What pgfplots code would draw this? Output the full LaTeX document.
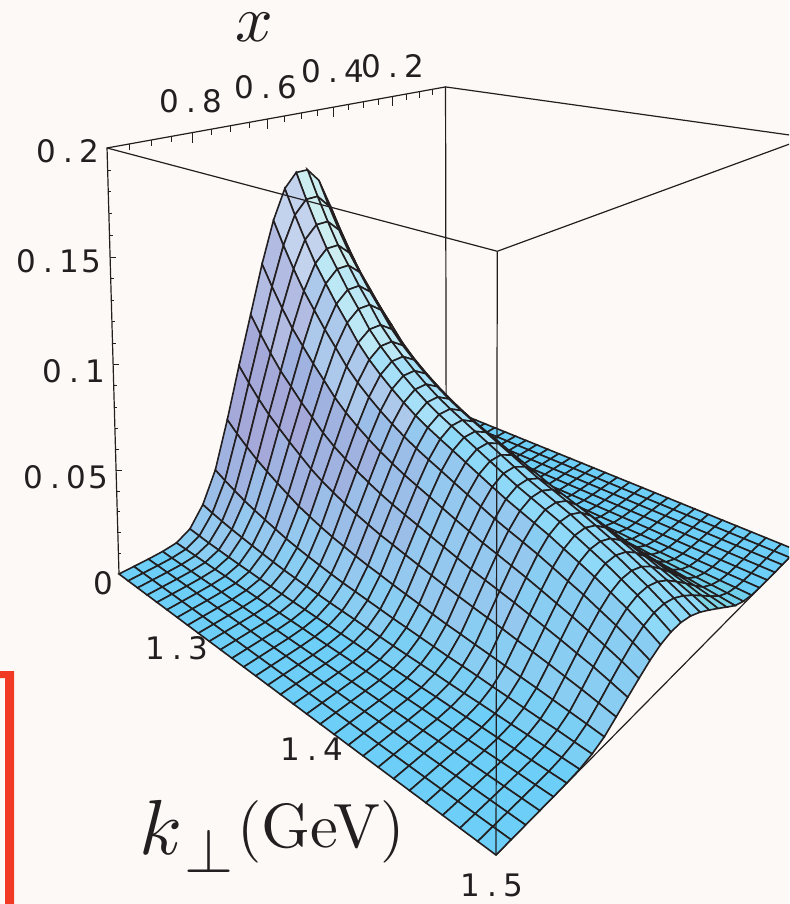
\documentclass[border=0pt]{standalone}
\usepackage{fontspec}
\usepackage{pgfplots}
\usepackage{pgfplotstable}
\usepgfplotslibrary{patchplots}
\pgfplotsset{compat=1.18}
\newfontfamily\tickf{DejaVu Sans}
\definecolor{bg}{HTML}{FCF9F6}
\definecolor{ink}{HTML}{231F20}
\definecolor{redm}{HTML}{F03A24}
\newcommand\cc[1]{\makebox[21.5pt][c]{#1}}
\newcommand\tl[3]{\node[ink,inner sep=0pt,font=\tickf\fontsize{31}{31}\selectfont] at (axis cs:#1,#2) {#3};}
\newcommand\pl[1]{\addplot[ink,line width=1.2pt,no marks] table[row sep=\\,x expr={PX(\thisrow{s},\thisrow{t},\thisrow{w})},y expr={PY(\thisrow{s},\thisrow{t},\thisrow{w})}]{s t w\\ #1};}
\pgfplotstableread{
z c
0 0
0 0
0 0
0 0
0 0
0 0
0 0
0 0
0 0
0 0
0 0
0 0
0 0
0 0
0 0
0 0
0 0
0 0
0 0
0 0
0 0
0 0
0 0
0 0
0 0
0 0
0 0
0 0
0 0
0 0

0 0
0 0
0 0
0 0
0 0
0 0
0 0
0 0
0 0
0 0
0 0
0 0
0 0
0 0
0 0
0 0
0 0
0 0
0 0
0 0
0 0
0 0
0 0
0 0
0 0
0 0
0 0
0 0
0 0
0 0

0 0
0 0
0 0
0 0
0 0
0 0
0 0
0 0
0 0
0 0
0 0
0 0
0 0
0 0
0 0
0 0
0 0
0 0
0 0
0 0
0 0
0 0
0 0
0 0
0 0
0 0
0 0
0 0
0 0
0 0

2 0
1 0
1 0
1 0
1 0
1 0
1 0
0 0
0 0
0 0
0 0
0 0
0 0
0 0
0 0
0 0
0 0
0 0
0 0
0 0
0 0
0 0
0 0
0 0
0 0
0 0
0 0
0 0
0 0
0 0

10 15
9 15
8 15
7 15
6 0
6 0
5 0
5 0
4 0
4 0
3 0
3 0
3 0
2 0
2 0
2 0
2 0
1 0
1 0
1 0
1 0
1 0
0 0
0 0
0 0
0 0
0 0
0 0
0 0
0 0

46 15
41 15
36 15
33 15
29 15
26 15
24 15
21 15
19 15
17 15
15 15
14 15
13 15
12 15
11 15
10 0
9 0
8 0
7 0
6 0
5 0
5 0
4 0
3 0
3 0
2 0
2 0
1 0
1 0
1 0

137 14
123 14
111 14
100 14
91 14
82 14
74 14
66 14
59 14
54 15
49 15
45 15
41 15
38 15
35 15
32 15
29 15
26 15
24 15
22 15
20 15
17 15
15 15
14 15
12 15
10 15
9 15
7 15
6 15
4 15

284 14
257 14
233 14
210 14
192 14
175 14
159 14
143 14
131 14
120 14
111 14
102 14
94 14
88 14
82 14
76 14
70 14
65 14
60 14
55 14
50 14
47 14
43 15
38 15
34 15
30 15
26 15
23 15
18 15
14 15

515 13
468 13
426 13
387 13
355 13
324 13
296 13
268 13
247 13
227 14
210 14
196 14
182 14
170 14
160 14
149 14
139 14
130 14
120 14
111 14
104 14
96 14
89 14
81 14
73 14
66 14
58 14
50 14
42 14
33 14

769 13
703 13
642 13
588 13
543 13
499 13
459 13
419 13
387 13
360 12
336 12
314 12
295 12
277 12
263 12
248 14
234 14
220 14
206 14
193 14
181 14
170 14
159 14
146 14
134 14
122 14
108 14
95 14
80 14
65 14

1012 13
930 13
853 13
783 13
727 13
669 13
620 13
568 13
526 13
492 11
461 11
433 11
408 11
386 11
367 11
349 11
330 11
312 9
294 9
276 9
261 9
246 9
231 9
214 9
197 9
180 9
161 14
143 14
121 14
98 14

1256 13
1155 13
1062 13
978 12
908 12
840 12
778 12
715 12
664 12
622 10
584 10
550 10
520 10
493 10
470 10
447 10
424 10
401 9
379 9
357 9
339 9
320 9
301 9
280 9
258 9
237 9
213 9
188 9
161 9
130 9

1467 12
1351 12
1245 12
1148 12
1068 11
989 11
918 11
845 11
787 11
738 10
694 10
655 10
620 10
589 10
562 10
536 10
509 10
483 9
457 9
431 9
409 9
388 9
366 9
341 9
315 9
290 9
260 9
231 9
197 9
160 9

1619 12
1493 12
1378 12
1271 12
1184 11
1098 11
1021 11
940 11
876 11
823 10
775 10
732 10
693 10
660 10
630 10
602 10
573 10
544 9
515 9
487 9
463 9
439 9
415 9
386 9
358 9
329 9
296 9
263 9
225 9
183 9

1690 12
1560 12
1440 12
1330 12
1240 11
1150 11
1070 11
985 11
920 11
865 10
815 10
770 10
730 10
695 10
665 10
635 9
605 9
575 9
545 9
515 9
490 9
465 9
440 9
410 9
380 9
350 9
315 9
280 9
240 9
195 9

1690 8
1560 8
1440 8
1330 11
1240 11
1150 11
1070 11
985 11
920 10
865 10
815 10
770 10
730 10
695 10
665 9
635 9
605 9
575 9
545 9
515 9
490 9
465 9
440 9
410 9
380 9
350 9
315 9
280 9
240 9
195 9

1619 8
1493 8
1378 8
1271 16
1184 16
1098 16
1021 16
940 16
876 16
823 16
775 16
732 16
693 3
660 3
630 3
602 3
573 3
544 3
515 3
487 3
463 3
439 2
415 2
386 2
358 2
329 2
296 2
263 2
225 2
183 2

1467 7
1351 7
1245 7
1148 7
1068 16
989 16
918 16
845 16
787 16
738 4
694 4
655 4
620 4
589 4
562 3
536 3
509 3
483 3
457 3
431 3
409 3
388 3
366 2
341 2
315 2
290 2
260 2
231 2
197 2
160 2

1256 7
1155 7
1062 7
978 5
908 5
840 5
778 5
715 5
664 5
622 5
584 5
550 4
520 4
493 4
470 4
447 3
424 3
401 3
379 3
357 3
339 3
320 3
301 2
280 2
258 2
237 2
213 2
188 2
161 2
130 2

1012 6
930 6
853 6
783 6
727 6
669 6
620 5
568 5
526 5
492 5
461 4
433 4
408 4
386 4
367 4
349 3
330 3
312 3
294 3
276 3
261 3
246 3
231 3
214 2
197 2
180 2
161 2
143 2
121 2
98 2

769 6
703 6
642 6
588 6
543 5
499 5
459 5
419 5
387 4
360 4
336 4
314 4
295 4
277 3
263 3
248 3
234 3
220 3
206 3
193 3
181 2
170 2
159 2
146 2
134 2
122 2
108 2
95 2
80 2
65 2

515 5
468 5
426 5
387 4
355 4
324 4
296 4
268 3
247 3
227 3
210 3
196 3
182 3
170 2
160 2
149 2
139 2
130 2
120 2
111 2
104 2
96 2
89 2
81 2
73 1
66 1
58 1
50 1
42 1
33 1

284 4
257 4
233 4
210 3
192 3
175 3
159 3
143 2
131 2
120 2
111 2
102 2
94 2
88 2
82 2
76 2
70 1
65 1
60 1
55 1
50 1
47 1
43 1
38 1
34 1
30 1
26 1
23 1
18 1
14 1

137 3
123 3
111 3
100 3
91 2
82 2
74 2
66 2
59 2
54 2
49 1
45 1
41 1
38 1
35 1
32 1
29 1
26 1
24 1
22 1
20 1
17 1
15 1
14 0
12 0
10 0
9 0
7 0
6 0
4 0

46 2
41 2
36 2
33 1
29 1
26 1
24 1
21 1
19 1
17 1
15 1
14 0
13 0
12 0
11 0
10 0
9 0
8 0
7 0
6 0
5 0
5 0
4 0
3 0
3 0
2 0
2 0
1 0
1 0
1 0

10 1
9 1
8 1
7 1
6 1
6 0
5 0
5 0
4 0
4 0
3 0
3 0
3 0
2 0
2 0
2 0
2 0
1 0
1 0
1 0
1 0
1 0
0 0
0 0
0 0
0 0
0 0
0 0
0 0
0 0

2 0
1 0
1 0
1 0
1 0
1 0
1 0
0 0
0 0
0 0
0 0
0 0
0 0
0 0
0 0
0 0
0 0
0 0
0 0
0 0
0 0
0 0
0 0
0 0
0 0
0 0
0 0
0 0
0 0
0 0

0 0
0 0
0 0
0 0
0 0
0 0
0 0
0 0
0 0
0 0
0 0
0 0
0 0
0 0
0 0
0 0
0 0
0 0
0 0
0 0
0 0
0 0
0 0
0 0
0 0
0 0
0 0
0 0
0 0
0 0

0 0
0 0
0 0
0 0
0 0
0 0
0 0
0 0
0 0
0 0
0 0
0 0
0 0
0 0
0 0
0 0
0 0
0 0
0 0
0 0
0 0
0 0
0 0
0 0
0 0
0 0
0 0
0 0
0 0
0 0

0 0
0 0
0 0
0 0
0 0
0 0
0 0
0 0
0 0
0 0
0 0
0 0
0 0
0 0
0 0
0 0
0 0
0 0
0 0
0 0
0 0
0 0
0 0
0 0
0 0
0 0
0 0
0 0
0 0
0 0
}\surfdata
\pgfplotstableread{
s t w u v
0 0 0.05 3 0
0 0 0.10 3 0
0 0 0.15 3 0
0 0 0.20 3 0
0 0 0.25 6 0
0 0 0.30 3 0
0 0 0.35 3 0
0 0 0.40 3 0
0 0 0.45 3 0
0 0 0.50 6 0
0 0 0.55 3 0
0 0 0.60 3 0
0 0 0.65 3 0
0 0 0.70 3 0
0 0 0.75 6 0
0 0 0.80 3 0
0 0 0.85 3 0
0 0 0.90 3 0
0 0 0.95 3 0
0 0.05 1 0 6
0 0.10 1 0 6
0 0.15 1 0 6
0 0.20 1 0 10
0 0.25 1 0 6
0 0.30 1 0 6
0 0.35 1 0 6
0 0.40 1 0 10
0 0.45 1 0 6
0 0.50 1 0 6
0 0.55 1 0 6
0 0.60 1 0 10
0 0.65 1 0 6
0 0.70 1 0 6
0 0.75 1 0 6
0 0.80 1 0 10
0 0.85 1 0 6
0 0.90 1 0 6
0 0.95 1 0 6
}\tickdata
\begin{document}
\begin{tikzpicture}
\begin{axis}[
  scale only axis,width=789pt,height=904pt,
  xmin=0,xmax=789,ymin=0,ymax=904,y dir=reverse,
  axis line style={draw=none},xtick=\empty,ytick=\empty,
  axis background/.style={fill=bg},
  declare function={
    Dn(\s,\t,\w)=1-0.3*\s+0.333*\t-0.033*\w;
    PX(\s,\t,\w)=(228.2*\s+475.7*\t-15.5*\w+119)/Dn(\s,\t,\w);
    PY(\s,\t,\w)=(24.5*\s-30.1*\t-430.9*\w+574)/Dn(\s,\t,\w);
  },
  colormap={cells}{
    rgb255=(109,207,247) rgb255=(123,207,245) rgb255=(138,205,242) rgb255=(148,200,238)
    rgb255=(155,190,232) rgb255=(160,178,224) rgb255=(165,169,218) rgb255=(178,188,227)
    rgb255=(195,211,238) rgb255=(143,217,248) rgb255=(166,224,248) rgb255=(188,232,246)
    rgb255=(205,238,240) rgb255=(191,232,220) rgb255=(126,213,230) rgb255=(112,208,236)
    rgb255=(172,200,234)
  },
  colormap access=direct,
]
% parts of the box behind the surface
\pl{0 0 0\\ 0 0 1\\ 0 1 1\\ 0 1 0\\}
\pl{0 1 1\\ 1 1 1\\}
\pl{1 0 0\\ 1 1 0\\}
\addplot[ink,line width=0.9pt,no marks,quiver={u=\thisrow{u},v=\thisrow{v}}] table[
  x expr={PX(\thisrow{s},\thisrow{t},\thisrow{w})},
  y expr={PY(\thisrow{s},\thisrow{t},\thisrow{w})}] {\tickdata};
% surface: z in units of 0.0001, c = palette index of the cell
\addplot[surf,shader=flat corner,draw=ink,line width=1.6pt,mesh/rows=30,mesh/cols=30,point meta=explicit]
 table[
  x expr={PX(mod(\coordindex,30)/29,1-floor((\coordindex+0.5)/30)/29,\thisrow{z}/2000)},
  y expr={PY(mod(\coordindex,30)/29,1-floor((\coordindex+0.5)/30)/29,\thisrow{z}/2000)},
  meta=c] {\surfdata};
% parts of the box in front
\pl{0 0 1\\ 1 0 1\\ 1 1 1\\}
\pl{1 0 0\\ 1 0 1\\}
\tl{68}{151}{\cc0\cc.\cc2}
\tl{59}{261}{\cc0\cc.\cc1\cc5}
\tl{74}{371}{\cc0\cc.\cc1}
\tl{66}{477}{\cc0\cc.\cc0\cc5}
\tl{103}{583}{0}
\tl{191}{101}{\cc0\cc.\cc8}
\tl{266}{87}{\cc0\cc.\cc6}
\tl{333}{71}{\cc0\cc.\cc4}
\tl{393}{66}{\cc0\cc.\cc2}
\tl{177}{648}{\cc1\cc.\cc3}
\tl{312}{749}{\cc1\cc.\cc4}
\tl{492}{885}{\cc1\cc.\cc5}
\node[ink,inner sep=0pt,scale=6.6] at (axis cs:254,27) {$x$};
\node[ink,inner sep=0pt,scale=7.8] at (axis cs:161,827) {$k$};
\node[ink,inner sep=0pt,scale=6.3] at (axis cs:209,851) {$\perp$};
\node[ink,inner sep=0pt,scale=6.25] at (axis cs:321,832) {(GeV)};
\fill[redm] (axis cs:0,671) -- (axis cs:14,671) -- (axis cs:14,904) -- (axis cs:5,904) -- (axis cs:5,703) -- (axis cs:5,678) -- (axis cs:0,678) -- cycle;
\end{axis}
\end{tikzpicture}
\end{document}
